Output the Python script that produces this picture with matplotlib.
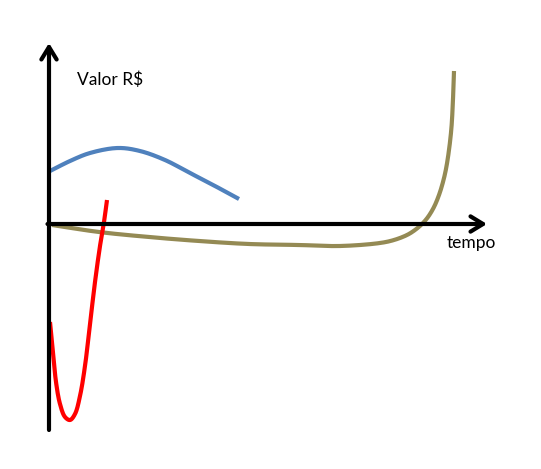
import numpy as np
import matplotlib.pyplot as plt

# curves (x = tempo, y = valor, origin at the axes crossing)
blue_x = [1, 21, 41, 69, 91, 116, 141, 166, 190]
blue_y = [53, 63, 71, 76, 73, 64, 51, 38, 25]

red_x = [1, 4, 7, 11, 16, 21, 26, 31, 36, 41, 46, 51, 55, 58]
red_y = [-98, -128, -158, -180, -193, -196, -190, -172, -142, -100, -58, -22, 2, 24]

olive_x = [3, 50, 100, 150, 200, 250, 291, 331, 345, 358, 366, 373, 379, 385, 390, 394, 397, 400, 402.5, 404, 405]
olive_y = [-1, -8, -13, -17, -20, -21, -22, -19, -16, -11, -6, 0, 7, 17, 29, 42, 55, 74, 97, 125, 153]


def smooth(xs, ys, n=25):
    # centripetal catmull-rom through the read points, just for drawing
    p = np.column_stack([xs, ys]).astype(float)
    p = np.vstack([2 * p[0] - p[1], p, 2 * p[-1] - p[-2]])
    out = []
    for i in range(1, len(p) - 2):
        p0, p1, p2, p3 = p[i - 1], p[i], p[i + 1], p[i + 2]
        t0 = 0.0
        t1 = t0 + np.linalg.norm(p1 - p0) ** 0.5
        t2 = t1 + np.linalg.norm(p2 - p1) ** 0.5
        t3 = t2 + np.linalg.norm(p3 - p2) ** 0.5
        t = np.linspace(t1, t2, n, endpoint=False)[:, None]
        a1 = (t1 - t) / (t1 - t0) * p0 + (t - t0) / (t1 - t0) * p1
        a2 = (t2 - t) / (t2 - t1) * p1 + (t - t1) / (t2 - t1) * p2
        a3 = (t3 - t) / (t3 - t2) * p2 + (t - t2) / (t3 - t2) * p3
        b1 = (t2 - t) / (t2 - t0) * a1 + (t - t0) / (t2 - t0) * a2
        b2 = (t3 - t) / (t3 - t1) * a2 + (t - t1) / (t3 - t1) * a3
        out.append((t2 - t) / (t2 - t1) * b1 + (t - t1) / (t2 - t1) * b2)
    out.append(p[-2][None, :])
    out = np.vstack(out)
    return out[:, 0], out[:, 1]


fig = plt.figure(figsize=(5.41, 4.69), dpi=100)
ax = fig.add_axes([0, 0, 1, 1])
ax.set_xlim(-49, 492)
ax.set_ylim(-245, 224)
ax.axis('off')

# axes with arrow heads
arrow = dict(arrowstyle='->,head_length=0.9,head_width=0.55', lw=3, color='black',
             shrinkA=0, shrinkB=0)
ax.annotate('', xy=(0, 181), xytext=(0, -206), arrowprops=arrow)
ax.annotate('', xy=(438, 0), xytext=(-1.5, 0), arrowprops=arrow)

ax.plot(*smooth(blue_x, blue_y), color='#4F81BD', lw=3, solid_capstyle='butt')
ax.plot(*smooth(olive_x, olive_y), color='#948A54', lw=3, solid_capstyle='butt')
ax.plot(*smooth(red_x, red_y), color='#FF0000', lw=3, solid_capstyle='butt')

ax.text(28, 144, 'Valor R$', fontsize=12.5, family='Lato', va='center', ha='left')
ax.text(398, -19, 'tempo', fontsize=12.5, family='Lato', va='center', ha='left')

fig.savefig('out.png', dpi=100)
